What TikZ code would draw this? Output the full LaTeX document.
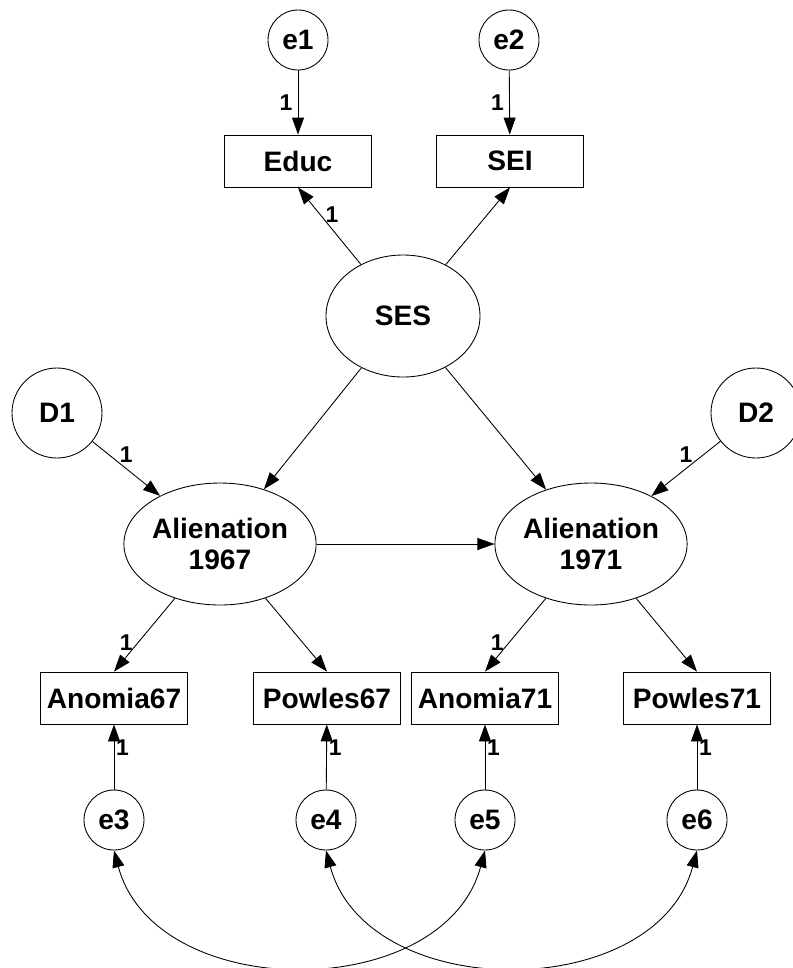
\documentclass[tikz,border=0pt]{standalone}
\usepackage{fontspec}
\setmainfont{Liberation Sans}
\usetikzlibrary{arrows.meta}
\usetikzlibrary{shapes.geometric}

\begin{document}
\begin{tikzpicture}[>={Triangle[length=0.34cm,width=0.24cm]}, line width=0.5pt]
\tikzstyle{obs}=[rectangle,draw,minimum width=2.94cm,minimum height=1.04cm,inner sep=0pt,font=\fontsize{16}{18}\bfseries\selectfont]
\tikzstyle{lat}=[ellipse,draw,align=center,minimum width=3.08cm,minimum height=2.44cm,inner sep=0pt,font=\fontsize{16}{18}\bfseries\selectfont]
\tikzstyle{err}=[circle,draw,minimum size=1.2cm,inner sep=0pt,font=\fontsize{16}{18}\bfseries\selectfont]
\tikzstyle{dist}=[circle,draw,minimum size=1.8cm,inner sep=0pt,font=\fontsize{16}{18}\bfseries\selectfont]
\tikzstyle{one}=[font=\fontsize{13}{15}\bfseries\selectfont,inner sep=3pt]
\useasboundingbox (0,0) rectangle (15.86,-19.36);
\node[err] at(5.96, -0.80) (e1) {e1};
\node[err] at(10.18, -0.80) (e2) {e2};
\node[obs] at(5.96, -3.22) (educ) {Educ};
\node[obs] at(10.20, -3.22) (sei) {SEI};
\node[lat] at(8.06, -6.32) (ses) {SES};
\node[dist] at(1.14, -8.26) (d1) {D1};
\node[dist] at(15.12, -8.26) (d2) {D2};
\node[lat] at(4.40, -10.88) (al67) {Alienation\\1967};
\node[lat] at(11.82, -10.88) (al71) {Alienation\\1971};
\node[obs] at(2.28, -13.96) (an67) {Anomia67};
\node[obs] at(6.54, -13.96) (po67) {Powles67};
\node[obs] at(9.70, -13.96) (an71) {Anomia71};
\node[obs] at(13.94, -13.96) (po71) {Powles71};
\node[err] at(2.28, -16.40) (e3) {e3};
\node[err] at(6.52, -16.40) (e4) {e4};
\node[err] at(9.70, -16.40) (e5) {e5};
\node[err] at(13.94, -16.40) (e6) {e6};
\draw[->] (e1) to node[one,left] {1} (educ);
\draw[->] (e2) to node[one,left] {1} (sei);
\draw[->] (ses) to node[one,pos=0.65,right] {1} (educ.south);
\draw[->] (ses) to (sei.south);
\draw[->] (ses) to (al67);
\draw[->] (ses) to (al71);
\draw[->] (d1) to node[one,above] {1} (al67);
\draw[->] (d2) to node[one,above] {1} (al71);
\draw[->] (al67) to (al71);
\draw[->] (al67) to node[one,pos=0.6,left] {1} (an67.north);
\draw[->] (al67) to (po67.north);
\draw[->] (al71) to node[one,pos=0.6,left] {1} (an71.north);
\draw[->] (al71) to (po71.north);
\draw[->] (e3) to node[one,pos=0.65,right,inner sep=1pt] {1} (an67);
\draw[->] (e4) to node[one,pos=0.65,right,inner sep=1pt] {1} (po67);
\draw[->] (e5) to node[one,pos=0.65,right,inner sep=1pt] {1} (an71);
\draw[->] (e6) to node[one,pos=0.65,right,inner sep=1pt] {1} (po71);
\draw[<->] (e3.south) to[out=-75,in=-105,looseness=1.1] (e5.south);
\draw[<->] (e4.south) to[out=-75,in=-105,looseness=1.1] (e6.south);
\end{tikzpicture}
\end{document}
